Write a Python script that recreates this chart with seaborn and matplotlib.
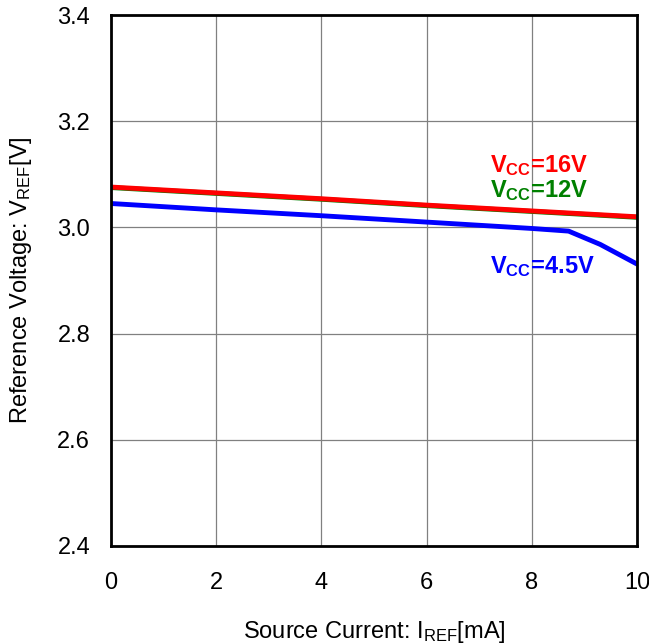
import matplotlib
matplotlib.use("Agg")
import matplotlib.pyplot as plt
import seaborn as sns
import pandas as pd

sns.set_theme(style="white")
plt.rcParams['font.family'] = ['Liberation Sans', 'DejaVu Sans']
plt.rcParams['mathtext.default'] = 'regular'

i_ref = [0, 2, 4, 6, 8, 10]
v_16 = [3.076, 3.065, 3.054, 3.042, 3.031, 3.020]
v_12 = [3.075, 3.064, 3.053, 3.041, 3.030, 3.019]
i_45 = [0, 2, 4, 6, 8, 8.7, 9.3, 10]
v_45 = [3.045, 3.033, 3.022, 3.010, 2.998, 2.993, 2.968, 2.931]

df = pd.concat([
    pd.DataFrame({"I": i_ref, "V": v_12, "vcc": "12V"}),
    pd.DataFrame({"I": i_ref, "V": v_16, "vcc": "16V"}),
    pd.DataFrame({"I": i_45, "V": v_45, "vcc": "4.5V"}),
])
palette = {"12V": "#008000", "16V": "#ff0000", "4.5V": "#0000ff"}

fig = plt.figure(figsize=(6.49, 6.44), dpi=100)
ax = fig.add_axes([111 / 649, 98 / 644, 526 / 649, 531 / 644])

sns.lineplot(data=df, x="I", y="V", hue="vcc", hue_order=["12V", "16V", "4.5V"],
             palette=palette, linewidth=3.5, legend=False, ax=ax)

ax.set_xlim(0, 10)
ax.set_ylim(2.4, 3.4)
ax.set_xticks([0, 2, 4, 6, 8, 10])
ax.set_yticks([2.4, 2.6, 2.8, 3.0, 3.2, 3.4])
ax.set_yticklabels(["2.4", "2.6", "2.8", "3.0", "3.2", "3.4"])
ax.grid(True, color="#808080", linewidth=0.9)
ax.tick_params(axis="both", length=0, labelsize=17, colors="black")
ax.tick_params(axis="x", pad=19)
ax.tick_params(axis="y", pad=15)
for sp in ax.spines.values():
    sp.set_color("black")
    sp.set_linewidth(2)

ax.set_xlabel("Source Current: I$_{REF}$[mA]", fontsize=17, labelpad=18, color="black")
ax.set_ylabel("Reference Voltage: V$_{REF}$[V]", fontsize=17, labelpad=17, color="black")

ax.text(7.2, 3.104, "V$_{CC}$=16V", color="#ff0000", fontsize=17, fontweight="bold")
ax.text(7.2, 3.057, "V$_{CC}$=12V", color="#008000", fontsize=17, fontweight="bold")
ax.text(7.2, 2.914, "V$_{CC}$=4.5V", color="#0000ff", fontsize=17, fontweight="bold")

fig.savefig("out.png", dpi=100)
